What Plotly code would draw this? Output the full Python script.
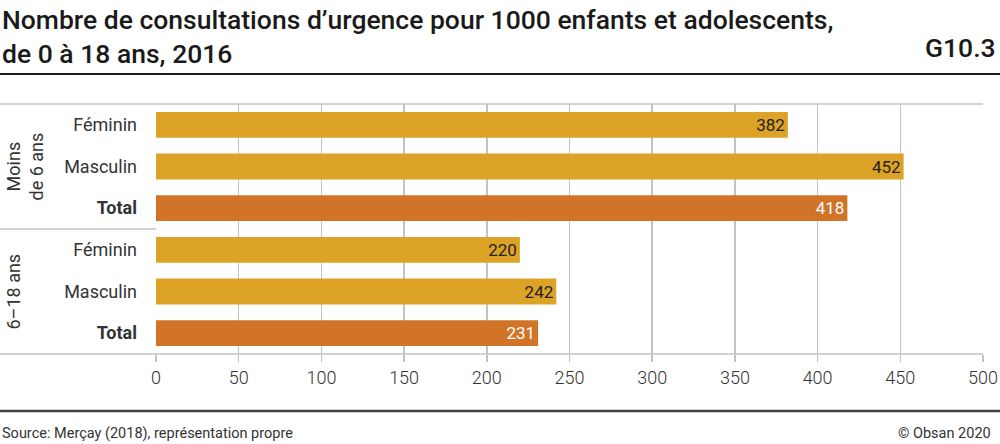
import plotly.graph_objects as go

groups = ["Moins<br>de 6 ans", "6–18 ans"]
categories = ["Féminin", "Masculin", "Total", "Féminin", "Masculin", "Total"]
values = [382, 452, 418, 220, 242, 231]
is_total = [False, False, True, False, False, True]
x_ticks = [0, 50, 100, 150, 200, 250, 300, 350, 400, 450, 500]

YELLOW = "#DDA326"
ORANGE = "#D17428"
GRID = "#c3c3c3"
FONT = "Roboto"

positions = list(range(len(categories)))
colors = [ORANGE if t else YELLOW for t in is_total]
text_colors = ["white" if t else "#222222" for t in is_total]
ticktext = [f"<b>{c}</b>" if t else c for c, t in zip(categories, is_total)]

fig = go.Figure()
fig.add_trace(go.Bar(
    x=values, y=positions, orientation="h",
    width=0.62,
    marker=dict(color=colors, line=dict(width=0)),
    text=[str(v) for v in values],
    textposition="inside", insidetextanchor="end",
    textfont=dict(family=FONT, size=18, color=text_colors),
    hoverinfo="skip",
))

W, H = 1000, 444
L, R, T, B = 156, 17, 104, 90
pw = W - L - R
ph = H - T - B

def px_x(px):
    return (px - L) / pw

def px_y(py):
    return 1 - (py - T) / ph

fig.update_layout(
    template="none",
    width=W, height=H, autosize=False,
    margin=dict(l=L, r=R, t=T, b=B, pad=0),
    plot_bgcolor="white", paper_bgcolor="white",
    showlegend=False,
    font=dict(family=FONT, color="#333333"),
    xaxis=dict(
        range=[0, 500], tickvals=x_ticks, showgrid=True, gridcolor=GRID, gridwidth=1.5,
        zeroline=False, showline=False, ticks="outside", ticklen=7, tickcolor=GRID, tickwidth=1.5,
        tickfont=dict(family=FONT, size=18, color="#333333", weight=300),
        fixedrange=True, automargin=False,
    ),
    yaxis=dict(
        range=[5.5, -0.5], tickvals=positions, ticktext=ticktext, showgrid=False,
        zeroline=False, showline=False, ticks="", ticklabelstandoff=18,
        tickfont=dict(family=FONT, size=18, color="#333333"),
        fixedrange=True, automargin=False,
    ),
)

shapes = []
shapes.append(dict(type="line", xref="paper", yref="paper", x0=px_x(0), x1=1, y0=1, y1=1,
                   line=dict(color=GRID, width=1.5)))
shapes.append(dict(type="line", xref="paper", yref="paper", x0=px_x(0), x1=1, y0=0, y1=0,
                   line=dict(color=GRID, width=1.5)))
shapes.append(dict(type="line", xref="paper", yref="y", x0=px_x(0), x1=0, y0=2.5, y1=2.5,
                   line=dict(color=GRID, width=1.5)))
shapes.append(dict(type="line", xref="paper", yref="paper", x0=px_x(0), x1=px_x(1000),
                   y0=px_y(74), y1=px_y(74), line=dict(color="#1a1a1a", width=2)))
shapes.append(dict(type="line", xref="paper", yref="paper", x0=px_x(0), x1=px_x(1000),
                   y0=px_y(411), y1=px_y(411), line=dict(color="#444444", width=2.5)))
fig.update_layout(shapes=shapes)

ann = []
ann.append(dict(text="Nombre de consultations d’urgence pour 1000 enfants et adolescents,<br>de 0 à 18 ans, 2016",
                xref="paper", yref="paper", x=px_x(0), y=px_y(2), xanchor="left", yanchor="top",
                align="left", showarrow=False,
                font=dict(family=FONT, size=26.5, color="#1a1a1a", weight=500)))
ann.append(dict(text="G10.3", xref="paper", yref="paper", x=px_x(998), y=px_y(65),
                xanchor="right", yanchor="bottom", showarrow=False,
                font=dict(family=FONT, size=26.5, color="#1a1a1a", weight=500)))
ann.append(dict(text="Source: Merçay (2018), représentation propre", xref="paper", yref="paper",
                x=px_x(0), y=px_y(433), xanchor="left", yanchor="middle", showarrow=False,
                font=dict(family=FONT, size=14.5, color="#333333")))
ann.append(dict(text="© Obsan 2020", xref="paper", yref="paper",
                x=px_x(993), y=px_y(433), xanchor="right", yanchor="middle", showarrow=False,
                font=dict(family=FONT, size=14.5, color="#333333")))
ann.append(dict(text=groups[0], xref="paper", yref="y", x=px_x(24), y=1, textangle=-90,
                xanchor="center", yanchor="middle", showarrow=False, align="center",
                font=dict(family=FONT, size=18, color="#333333")))
ann.append(dict(text=groups[1], xref="paper", yref="y", x=px_x(13), y=4, textangle=-90,
                xanchor="center", yanchor="middle", showarrow=False,
                font=dict(family=FONT, size=18, color="#333333")))
fig.update_layout(annotations=ann)

post = ("document.documentElement.style.margin='0';document.documentElement.style.padding='0';"
        "document.documentElement.style.overflow='hidden';"
        "document.body.style.margin='0';document.body.style.padding='0';"
        "document.body.style.overflow='hidden';")
fig.write_html("out.html", post_script=post,
               config={"displayModeBar": False, "responsive": False, "staticPlot": True})
